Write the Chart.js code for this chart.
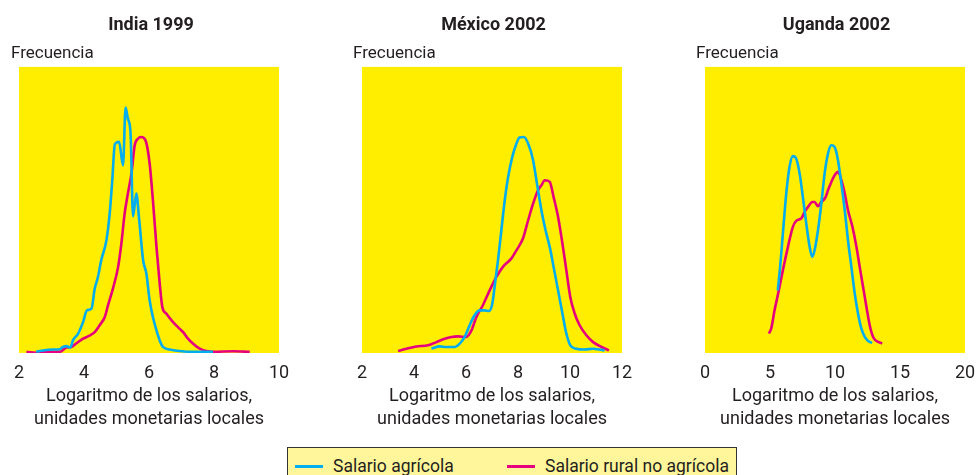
<!DOCTYPE html>
<html>
<head>
<meta charset="utf-8">
<script src="https://cdn.jsdelivr.net/npm/chart.js@4/dist/chart.umd.min.js"></script>
<style>
body { margin: 0; width: 976px; height: 475px; overflow: hidden; background: #fff; position: relative;
       font-family: Roboto, "Liberation Sans", sans-serif; color: #231f20; }
canvas { position: absolute; top: 0; }
#legend { position: absolute; left: 287px; top: 447px; width: 450px; height: 40px; box-sizing: border-box;
          background: #fff59a; border: 1.5px solid #333; }
#legend .sw { position: absolute; top: 17px; width: 28px; height: 3px; }
#legend .lt { position: absolute; top: 7px; font-size: 17.5px; line-height: 22px; white-space: nowrap; }
</style>
</head>
<body>
<canvas id="c0" width="280" height="440" style="left:11px"></canvas>
<canvas id="c1" width="281" height="440" style="left:353px"></canvas>
<canvas id="c2" width="281" height="440" style="left:696px"></canvas>
<div id="legend"></div>
<script>
// Data: [log wage, relative frequency]
const indiaAgri = [[2.53,0.004],[2.74,0.009],[3.05,0.012],[3.25,0.013],[3.35,0.021],[3.46,0.024],[3.58,0.019],[3.66,0.044],[3.82,0.068],[3.97,0.108],[4.09,0.149],[4.23,0.155],[4.33,0.225],[4.43,0.266],[4.53,0.324],[4.69,0.394],[4.79,0.487],[4.87,0.604],[4.95,0.730],[5.08,0.738],[5.20,0.656],[5.28,0.858],[5.35,0.819],[5.43,0.773],[5.51,0.478],[5.61,0.557],[5.69,0.476],[5.82,0.324],[5.92,0.277],[6.02,0.184],[6.12,0.126],[6.23,0.079],[6.33,0.044],[6.43,0.021],[6.64,0.012],[6.94,0.007],[7.35,0.004],[7.97,0.004]];
const indiaRural = [[2.23,0.004],[2.53,0.001],[2.74,0.004],[3.25,0.004],[3.46,0.019],[3.61,0.021],[3.76,0.033],[3.97,0.050],[4.12,0.058],[4.33,0.073],[4.48,0.097],[4.64,0.126],[4.74,0.167],[4.89,0.225],[5.05,0.301],[5.15,0.382],[5.25,0.487],[5.35,0.557],[5.46,0.627],[5.56,0.726],[5.66,0.749],[5.76,0.755],[5.89,0.744],[6.02,0.662],[6.12,0.534],[6.23,0.371],[6.33,0.242],[6.41,0.161],[6.53,0.138],[6.74,0.108],[6.94,0.085],[7.05,0.073],[7.20,0.050],[7.35,0.033],[7.56,0.015],[7.76,0.007],[7.97,0.004],[8.59,0.006],[9.10,0.004]];
const mexicoAgri = [[4.67,0.015],[4.99,0.023],[5.24,0.021],[5.56,0.021],[5.76,0.033],[5.95,0.056],[6.14,0.097],[6.33,0.132],[6.53,0.149],[6.72,0.149],[6.89,0.147],[7.01,0.172],[7.10,0.231],[7.23,0.324],[7.36,0.429],[7.49,0.534],[7.62,0.615],[7.78,0.685],[7.94,0.732],[8.06,0.753],[8.22,0.755],[8.39,0.732],[8.58,0.674],[8.73,0.592],[8.90,0.499],[9.06,0.429],[9.22,0.371],[9.37,0.301],[9.54,0.219],[9.71,0.138],[9.86,0.068],[10.01,0.027],[10.24,0.015],[10.56,0.012],[10.89,0.015],[11.14,0.012],[11.33,0.009]];
const mexicoRural = [[3.39,0.007],[3.71,0.015],[4.09,0.023],[4.54,0.027],[4.86,0.038],[5.18,0.050],[5.44,0.056],[5.69,0.058],[6.01,0.056],[6.21,0.079],[6.40,0.126],[6.65,0.167],[6.91,0.219],[7.17,0.266],[7.42,0.301],[7.74,0.330],[7.94,0.359],[8.19,0.400],[8.39,0.464],[8.58,0.522],[8.77,0.569],[8.90,0.586],[9.03,0.604],[9.22,0.598],[9.37,0.545],[9.54,0.476],[9.71,0.382],[9.86,0.289],[10.01,0.196],[10.18,0.138],[10.37,0.097],[10.63,0.062],[10.89,0.038],[11.21,0.021],[11.50,0.009]];
const ugandaAgri = [[5.60,0.219],[5.78,0.301],[5.99,0.417],[6.25,0.557],[6.50,0.650],[6.76,0.688],[7.02,0.679],[7.28,0.627],[7.53,0.545],[7.79,0.452],[8.05,0.371],[8.25,0.336],[8.43,0.359],[8.69,0.429],[8.95,0.522],[9.20,0.627],[9.46,0.697],[9.72,0.726],[9.97,0.720],[10.23,0.674],[10.49,0.592],[10.75,0.499],[11.00,0.394],[11.26,0.301],[11.52,0.207],[11.77,0.138],[12.03,0.085],[12.29,0.056],[12.55,0.042],[12.85,0.035]];
const ugandaRural = [[4.91,0.068],[5.09,0.085],[5.35,0.149],[5.68,0.219],[5.99,0.289],[6.38,0.371],[6.76,0.441],[7.07,0.464],[7.40,0.470],[7.66,0.493],[7.92,0.510],[8.25,0.528],[8.43,0.528],[8.69,0.513],[8.95,0.528],[9.28,0.545],[9.46,0.569],[9.72,0.598],[9.97,0.621],[10.23,0.633],[10.49,0.604],[10.75,0.557],[11.00,0.499],[11.34,0.441],[11.65,0.371],[11.90,0.301],[12.16,0.231],[12.42,0.161],[12.67,0.097],[12.93,0.056],[13.19,0.042],[13.63,0.033]];

const panelTitles = ['India 1999', 'México 2002', 'Uganda 2002'];
const xMin = [2, 2, 0];
const xMax = [10, 12, 20];
const xStep = [2, 2, 5];
const seriesNames = ['Salario agrícola', 'Salario rural no agrícola'];
const panelData = [[indiaAgri, indiaRural], [mexicoAgri, mexicoRural], [ugandaAgri, ugandaRural]];

const colors = ['#00aeef', '#e6007e'];
const leftGap = [8, 9, 9];
const FONT = 'Roboto, "Liberation Sans", sans-serif';
const TEXT = '#231f20';

// yellow plot background
const plotBg = {
    id: 'plotBg',
    beforeDraw(chart) {
        const a = chart.chartArea;
        const ctx = chart.ctx;
        ctx.save();
        ctx.fillStyle = '#ffee00';
        ctx.fillRect(a.left, a.top, a.right - a.left, a.bottom - a.top);
        ctx.restore();
    }
};

panelTitles.forEach((title, i) => {
    const ctx = document.getElementById('c' + i).getContext('2d');
    new Chart(ctx, {
        type: 'line',
        data: {
            datasets: panelData[i].map((series, k) => ({
                label: seriesNames[k],
                data: series.map(p => ({ x: p[0], y: p[1] })),
                borderColor: colors[k],
                borderWidth: 2.6,
                pointRadius: 0,
                cubicInterpolationMode: 'monotone',
                fill: false
            }))
        },
        options: {
            responsive: false,
            animation: false,
            devicePixelRatio: 1,
            layout: { padding: 0 },
            plugins: {
                legend: { display: false },
                tooltip: { enabled: false },
                title: {
                    display: true, text: title, color: TEXT,
                    font: { family: FONT, size: 18, weight: 'bold', lineHeight: 1.2 },
                    padding: { top: 15, bottom: 7 }
                },
                subtitle: {
                    display: true, text: 'Frecuencia', align: 'start', color: TEXT,
                    font: { family: FONT, size: 17, lineHeight: 1.2 },
                    padding: { top: 0, bottom: 2.9 }
                }
            },
            scales: {
                x: {
                    type: 'linear', min: xMin[i], max: xMax[i],
                    grid: { display: false, drawTicks: false },
                    border: { display: false },
                    ticks: { stepSize: xStep[i], color: TEXT, padding: 10, font: { family: FONT, size: 18 } },
                    title: {
                        display: true, color: TEXT,
                        text: ['Logaritmo de los salarios,', 'unidades monetarias locales'],
                        font: { family: FONT, size: 18, lineHeight: 1.28 },
                        padding: { top: 0, bottom: 8.5 }
                    },
                    afterFit(s) { s.height = 87; s.paddingLeft = 0; s.paddingRight = 12; }
                },
                y: {
                    min: 0, max: 1,
                    grid: { display: false, drawTicks: false },
                    border: { display: false },
                    ticks: { display: false },
                    afterFit(s) { s.width = leftGap[i]; }
                }
            }
        },
        plugins: [plotBg]
    });
});

// shared legend
const legend = document.getElementById('legend');
const swLeft = [7, 219];
const txtLeft = [45, 257];
seriesNames.forEach((name, k) => {
    const sw = document.createElement('span');
    sw.className = 'sw';
    sw.style.left = swLeft[k] + 'px';
    sw.style.background = colors[k];
    legend.appendChild(sw);
    const t = document.createElement('span');
    t.className = 'lt';
    t.style.left = txtLeft[k] + 'px';
    t.textContent = name;
    legend.appendChild(t);
});
</script>
</body>
</html>
